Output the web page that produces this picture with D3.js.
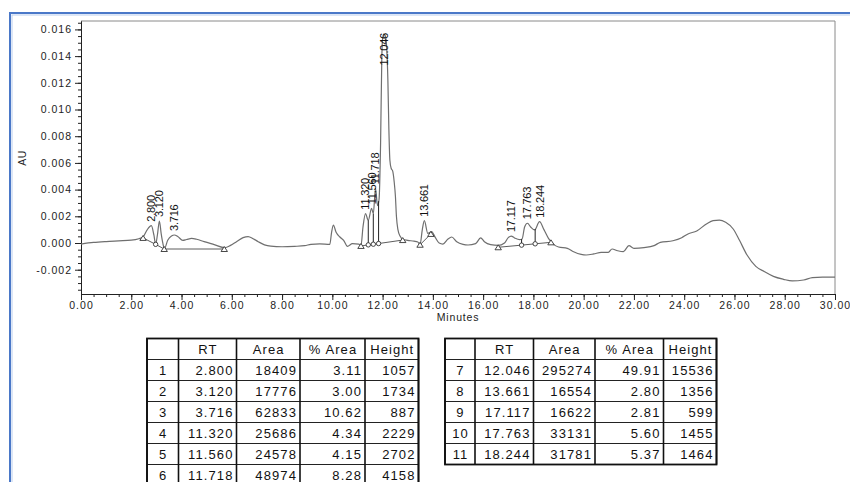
<!DOCTYPE html>
<html>
<head>
<meta charset="utf-8">
<script src="https://cdn.jsdelivr.net/npm/d3@7/dist/d3.min.js"></script>
<style>
  html, body { margin: 0; padding: 0; background: #fff; }
  svg { display: block; font-family: "Liberation Sans", Arial, sans-serif; }
</style>
</head>
<body>
<svg id="chart" width="850" height="482"></svg>
<script>
// Chromatogram trace (minutes, AU)
const traceMinutes = [
  0.00, 0.50, 1.00, 1.50, 2.00, 2.30, 2.47, 2.62, 2.80, 2.90, 2.97, 3.04, 3.12, 3.19, 3.26, 3.32,
  3.45, 3.60, 3.716, 3.85, 4.05, 4.20, 4.40, 4.60, 4.90, 5.30, 5.72, 5.95, 6.20, 6.45, 6.65, 6.85,
  7.05, 7.30, 7.55, 8.00, 8.50, 8.90, 9.15, 9.50, 9.90, 9.97, 10.04, 10.15, 10.30, 10.45, 10.60, 10.80,
  11.05, 11.14, 11.22, 11.32, 11.43, 11.56, 11.63, 11.718, 11.80, 11.86, 11.92, 11.97, 12.00, 12.046,
  12.11, 12.16, 12.21, 12.25, 12.29, 12.34, 12.40, 12.46, 12.51, 12.55, 12.61, 12.70, 12.80, 13.00,
  13.25, 13.40, 13.49, 13.58, 13.661, 13.80, 13.95, 14.10, 14.25, 14.40, 14.60, 14.75, 14.95, 15.20,
  15.40, 15.70, 15.90, 16.05, 16.30, 16.60, 16.85, 17.00, 17.117, 17.25, 17.45, 17.55, 17.65, 17.763,
  17.90, 18.05, 18.244, 18.42, 18.60, 18.80, 19.00, 19.35, 19.60, 19.90, 20.10, 20.40, 20.70, 20.98,
  21.13, 21.35, 21.58, 21.80, 22.00, 22.40, 22.80, 23.05, 23.55, 23.90, 24.15, 24.50, 24.90, 25.15,
  25.40, 25.65, 25.95, 26.20, 26.50, 26.85, 27.20, 27.55, 27.95, 28.30, 28.75, 29.10, 29.50, 30.00
];
const traceAU = [
  -0.00008, 0.00004, 0.00011, 0.00016, 0.00021, 0.00032, 0.00045, 0.00095, 0.00130, 0.00060, -0.00010, 0.00060, 0.00165, 0.00070, -0.00005, -0.00042,
  0.00020, 0.00052, 0.00060, 0.00048, 0.00020, 0.00026, 0.00034, 0.00028, 0.00010, -0.00012, -0.00035, -0.00018, 0.00012, 0.00040, 0.00048, 0.00032,
  0.00010, -0.00014, -0.00024, -0.00028, -0.00025, -0.00020, -0.00010, -0.00006, -0.00010, 0.00080, 0.00135, 0.00080, 0.00045, 0.00020, -0.00025, -0.00005,
  -0.00008, -0.00020, 0.00120, 0.00220, 0.00170, 0.00260, 0.00220, 0.00410, 0.00280, 0.00330, 0.00750, 0.01400, 0.01530, 0.01565,
  0.01550, 0.01470, 0.01220, 0.00850, 0.00620, 0.00560, 0.00540, 0.00460, 0.00350, 0.00200, 0.00100, 0.00050, 0.00028, 0.00020,
  0.00014, 0.00008, -0.00012, 0.00100, 0.00167, 0.00072, 0.00085, 0.00040, 0.00000, -0.00008, 0.00030, 0.00045, 0.00010, -0.00010,
  -0.00015, -0.00005, 0.00038, 0.00010, -0.00012, -0.00018, 0.00000, 0.00040, 0.00052, 0.00038, 0.00025, 0.00030, 0.00120, 0.00148,
  0.00118, 0.00098, 0.00160, 0.00100, 0.00035, -0.00010, -0.00030, -0.00040, -0.00065, -0.00085, -0.00090, -0.00082, -0.00070, -0.00070,
  -0.00045, -0.00058, -0.00065, -0.00020, -0.00040, -0.00035, -0.00020, 0.00005, 0.00017, 0.00040, 0.00068, 0.00090, 0.00145, 0.00168,
  0.00172, 0.00155, 0.00105, 0.00020, -0.00090, -0.00175, -0.00215, -0.00250, -0.00272, -0.00284, -0.00277, -0.00260, -0.00256, -0.00256
];

// Integration baselines: each group runs from a start mark to an end mark,
// with drop-line marks ("c") between fused peaks
const baselineMinutes = [[2.47, 2.97, 3.31, 5.70], [11.14, 11.43, 11.63, 11.84, 12.80], [13.49, 13.92], [16.60, 17.53, 18.07, 18.70]];
const baselineAU = [[0.00038, -0.00010, -0.00045, -0.00045], [-0.00022, -0.00014, -0.00009, -0.00004, 0.00022], [-0.00013, 0.00068], [-0.00032, -0.00016, -0.00006, 0.00005]];
const baselineMarks = [["t", "c", "t", "t"], ["t", "c", "c", "c", "t"], ["t", "t"], ["t", "c", "c", "t"]];

// Peak table
const peakNo = [1, 2, 3, 4, 5, 6, 7, 8, 9, 10, 11];
const peakRT = [2.800, 3.120, 3.716, 11.320, 11.560, 11.718, 12.046, 13.661, 17.117, 17.763, 18.244];
const peakArea = [18409, 17776, 62833, 25686, 24578, 48974, 295274, 16554, 16622, 33131, 31781];
const peakPctArea = [3.11, 3.00, 10.62, 4.34, 4.15, 8.28, 49.91, 2.80, 2.81, 5.60, 5.37];
const peakHeight = [1057, 1734, 887, 2229, 2702, 4158, 15536, 1356, 599, 1455, 1464];
const tableHeaders = ["", "RT", "Area", "% Area", "Height"];

// Axis ticks
const xMajorTicks = d3.range(0, 16).map(i => i * 2);
const xMinorTicks = d3.range(0, 61).map(i => i * 0.5);
const yMajorTicks = d3.range(-1, 9).map(i => i * 0.002);
const yMinorTicks = d3.range(-7, 34).map(i => i * 0.0005);

// Plain ASCII hyphen for negative numbers
const fmt = d3.formatLocale({ decimal: ".", thousands: ",", grouping: [3], currency: ["", ""], minus: "-" }).format;

const svg = d3.select("#chart");
const plot = { left: 81, right: 835, top: 21, bottom: 294 };
const x = d3.scaleLinear().domain([0, 30]).range([plot.left, plot.right]);
const y = d3.scaleLinear().domain([-0.00382, 0.01663]).range([plot.bottom, plot.top]);

// Outer page frame
svg.append("rect").attr("x", 10).attr("y", 13).attr("width", 900).attr("height", 600)
  .attr("fill", "none").attr("stroke", "#4a78c8").attr("stroke-width", 2);
svg.append("rect").attr("x", 12).attr("y", 15).attr("width", 900).attr("height", 600)
  .attr("fill", "none").attr("stroke", "#b9cdee").attr("stroke-width", 1);

// Plot frame (top and right)
svg.append("path")
  .attr("d", `M${plot.left},${plot.top}H${plot.right}V${plot.bottom}`)
  .attr("fill", "none").attr("stroke", "#8a8a8a").attr("stroke-width", 1);

// Axes
function styleAxis(g) {
  g.selectAll("path, line").attr("stroke", "#222");
  g.selectAll("text").attr("fill", "#222").style("font-size", "10.5px").style("letter-spacing", "1px");
}
svg.append("g").attr("transform", `translate(0,${plot.bottom})`)
  .call(d3.axisBottom(x).tickValues(xMinorTicks).tickSize(3).tickSizeOuter(0).tickFormat(""))
  .call(styleAxis);
svg.append("g").attr("transform", `translate(0,${plot.bottom})`)
  .call(d3.axisBottom(x).tickValues(xMajorTicks).tickSize(6).tickPadding(2).tickSizeOuter(0).tickFormat(fmt(".2f")))
  .call(styleAxis);
svg.append("g").attr("transform", `translate(${plot.left},0)`)
  .call(d3.axisLeft(y).tickValues(yMinorTicks).tickSize(3).tickSizeOuter(0).tickFormat(""))
  .call(styleAxis);
svg.append("g").attr("transform", `translate(${plot.left},0)`)
  .call(d3.axisLeft(y).tickValues(yMajorTicks).tickSize(6).tickPadding(3).tickSizeOuter(0).tickFormat(fmt(".3f")))
  .call(styleAxis);

svg.append("text").attr("transform", `translate(26,158) rotate(-90)`)
  .attr("text-anchor", "middle").style("font-size", "10.5px").style("letter-spacing", "0.5px")
  .attr("fill", "#222").text("AU");
svg.append("text").attr("x", (plot.left + plot.right) / 2).attr("y", 321)
  .attr("text-anchor", "middle").style("font-size", "10.5px").style("letter-spacing", "0.8px")
  .attr("fill", "#222").text("Minutes");

// Trace
const trace = traceMinutes.map((t, i) => [t, traceAU[i]]);
svg.append("path").datum(trace)
  .attr("fill", "none").attr("stroke", "#6f6f6f").attr("stroke-width", 1.2)
  .attr("d", d3.line().x(d => x(d[0])).y(d => y(d[1])).curve(d3.curveMonotoneX));

function auAt(t) {
  const i = d3.bisectRight(traceMinutes, t);
  if (i <= 0) return traceAU[0];
  if (i >= traceMinutes.length) return traceAU[traceAU.length - 1];
  const t0 = traceMinutes[i - 1], t1 = traceMinutes[i];
  return traceAU[i - 1] + (traceAU[i] - traceAU[i - 1]) * (t - t0) / (t1 - t0);
}

// Baselines, drop lines and marks
const marksG = svg.append("g");
baselineMinutes.forEach((group, gi) => {
  const pts = group.map((t, i) => [t, baselineAU[gi][i]]);
  marksG.append("path").datum(pts)
    .attr("fill", "none").attr("stroke", "#333").attr("stroke-width", 0.8)
    .attr("d", d3.line().x(d => x(d[0])).y(d => y(d[1])));
  pts.forEach((p, i) => {
    const kind = baselineMarks[gi][i];
    const px = x(p[0]), py = y(p[1]);
    if (kind === "c") {
      marksG.append("line").attr("x1", px).attr("x2", px)
        .attr("y1", py).attr("y2", y(auAt(p[0])))
        .attr("stroke", "#222").attr("stroke-width", 1);
      marksG.append("circle").attr("cx", px).attr("cy", py).attr("r", 2.2)
        .attr("fill", "#fff").attr("stroke", "#333").attr("stroke-width", 0.9);
    } else {
      marksG.append("path")
        .attr("d", `M${px},${py - 2.5}L${px + 3.2},${py + 2.5}L${px - 3.2},${py + 2.5}Z`)
        .attr("fill", "#fff").attr("stroke", "#333").attr("stroke-width", 0.9);
    }
  });
});

// Peak retention-time labels
const labelG = svg.append("g");
peakRT.forEach(rt => {
  const px = x(rt), apex = y(auAt(rt));
  const t = labelG.append("text")
    .attr("dy", "0.36em").attr("fill", "#111")
    .style("font-size", "11px").style("letter-spacing", "-0.2px")
    .text(fmt(".3f")(rt));
  const len = t.node().getComputedTextLength();
  const start = Math.max(apex - 4, 33 + len);
  t.attr("transform", `translate(${px},${start}) rotate(-90)`);
});

// Peak tables
function drawTable(cols, rowIdx) {
  const top = 338.5, headH = 21, rowH = 21;
  const g = svg.append("g");
  const bottom = top + headH + rowH * rowIdx.length;
  // horizontal rules
  g.append("line").attr("x1", cols[0]).attr("x2", cols[cols.length - 1]).attr("y1", top + headH).attr("y2", top + headH)
    .attr("stroke", "#222").attr("stroke-width", 1);
  rowIdx.forEach((_, r) => {
    const yy = top + headH + rowH * (r + 1);
    g.append("line").attr("x1", cols[0]).attr("x2", cols[cols.length - 1]).attr("y1", yy).attr("y2", yy)
      .attr("stroke", "#222").attr("stroke-width", 1);
  });
  // vertical rules
  cols.forEach(cx => {
    g.append("line").attr("x1", cx).attr("x2", cx).attr("y1", top).attr("y2", bottom)
      .attr("stroke", "#111").attr("stroke-width", 1.6);
  });
  g.append("rect").attr("x", cols[0]).attr("y", top)
    .attr("width", cols[cols.length - 1] - cols[0]).attr("height", bottom - top)
    .attr("fill", "none").attr("stroke", "#111").attr("stroke-width", 1.8);

  const txt = (s, xx, yy, anchor) => g.append("text").attr("x", xx).attr("y", yy)
    .attr("text-anchor", anchor).attr("fill", "#111")
    .style("font-size", "13px").style("letter-spacing", "1.1px").text(s);

  tableHeaders.forEach((h, c) => {
    if (h) txt(h, (cols[c] + cols[c + 1]) / 2 + 0.5, top + headH / 2 + 4.7, "middle");
  });
  rowIdx.forEach((i, r) => {
    const yy = top + headH + rowH * r + rowH / 2 + 4.7;
    txt(String(peakNo[i]), (cols[0] + cols[1]) / 2 + 0.5, yy, "middle");
    txt(fmt(".3f")(peakRT[i]), cols[2] - 3, yy, "end");
    txt(String(peakArea[i]), cols[3] - 3, yy, "end");
    txt(fmt(".2f")(peakPctArea[i]), cols[4] - 3, yy, "end");
    txt(String(peakHeight[i]), cols[5] - 3, yy, "end");
  });
}
drawTable([147, 178.5, 236.5, 300, 365, 418.5], [0, 1, 2, 3, 4, 5]);
drawTable([445, 475, 533.5, 595, 663.5, 716.5], [6, 7, 8, 9, 10]);
</script>
</body>
</html>
